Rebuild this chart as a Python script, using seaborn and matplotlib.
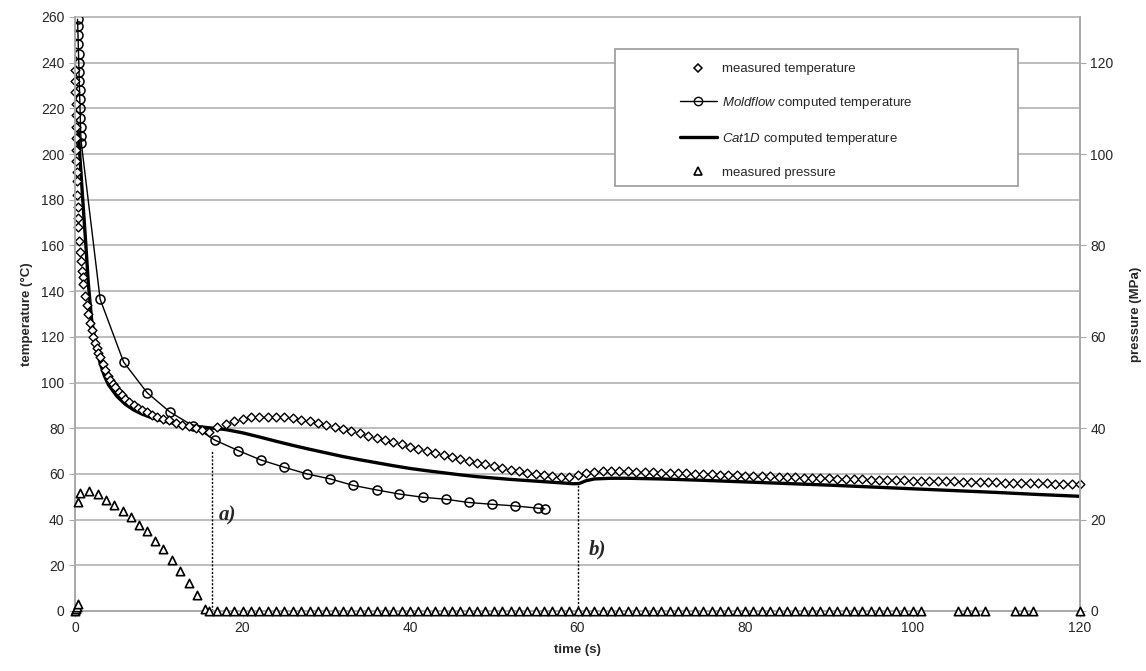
import matplotlib
matplotlib.use("Agg")
import matplotlib.pyplot as plt
import seaborn as sns
import pandas as pd
from matplotlib.lines import Line2D
from matplotlib.patches import Rectangle

# measured temperature, dense sampling at the start
meas_t_early = [0, 0.02, 0.04, 0.06, 0.08, 0.1, 0.12, 0.14, 0.16, 0.18, 0.2, 0.25, 0.3, 0.35,
                0.4, 0.5, 0.6, 0.7, 0.8, 0.9, 1.0, 1.2, 1.4, 1.6, 1.8, 2.0, 2.2, 2.4, 2.6, 2.8,
                3.0, 3.3, 3.6, 3.9, 4.2, 4.5, 4.8, 5.2, 5.6, 6.0, 6.5, 7.0, 7.5, 8.0, 8.6, 9.2,
                9.8, 10.5, 11.2, 12.0, 12.8, 13.6, 14.4, 15.2]
meas_T_early = [237, 232, 227, 222, 217, 212, 207, 202, 197, 192, 188, 182, 177, 172,
                168, 162, 157, 153, 149, 146, 143, 138, 134, 130, 126, 123, 120, 117.5, 115, 113,
                111, 108, 105.5, 103, 101, 99.5, 98, 96, 94.5, 93, 91.5, 90, 89, 88, 87, 86,
                85, 84.2, 83.4, 82.5, 81.6, 80.8, 80.0, 79.2]
# measured temperature, 1 s sampling from 16 s to 120 s
meas_t_late = list(range(16, 121))
meas_T_late = [78.5, 80.5, 82.0, 83.3, 84.2, 84.7, 85.0, 85.1, 85.0, 84.7,
               84.3, 83.7, 83.0, 82.3, 81.5, 80.6, 79.7, 78.8, 77.8, 76.8,
               75.9, 74.9, 73.9, 72.9, 72.0, 71.0, 70.1, 69.2, 68.4, 67.5,
               66.6, 65.8, 65.0, 64.2, 63.4, 62.6, 61.9, 61.2, 60.6, 60.0,
               59.5, 59.1, 58.8, 58.8, 59.6,
               60.4, 60.9, 61.1, 61.2, 61.2, 61.1, 61.0, 60.9, 60.8, 60.6,
               60.5, 60.4, 60.3, 60.1, 60.0, 59.9, 59.7, 59.6, 59.4, 59.2,
               59.1, 59.0, 58.9, 58.7, 58.6, 58.5, 58.4, 58.2, 58.1, 58.0,
               57.9, 57.8, 57.7, 57.6, 57.5, 57.4, 57.3, 57.2, 57.2, 57.1,
               57.0, 56.9, 56.8, 56.8, 56.7, 56.6, 56.5, 56.5, 56.4, 56.3,
               56.2, 56.2, 56.1, 56.0, 55.9, 55.9, 55.8, 55.7, 55.6, 55.5]

# Moldflow computed temperature
mold_t = [0.30, 0.33, 0.36, 0.39, 0.42, 0.45, 0.48, 0.51, 0.54, 0.57, 0.60, 0.63, 0.66, 0.70, 0.75,
          3.0, 5.8, 8.6, 11.3, 14.1, 16.7, 19.5, 22.2, 25.0, 27.7, 30.5, 33.2, 36.0, 38.7,
          41.5, 44.3, 47.0, 49.8, 52.5, 55.3, 56.1]
mold_T = [259, 256, 252, 248, 244, 240, 236, 232, 228, 224, 220, 216, 212, 208, 205,
          136.5, 109, 95.6, 87.2, 81, 74.8, 70.2, 66.1, 62.9, 60, 57.8, 55, 53, 51.2,
          49.8, 48.9, 47.5, 46.7, 46, 45, 44.7]

# Cat1D computed temperature
cat_t = [0.4, 0.6, 0.8, 1.0, 1.3, 1.6, 2.0, 2.5, 3.0, 3.5, 4.0, 5.0, 6.0, 7.0, 8.0, 9.0, 10, 11,
         12, 13, 14, 16, 18, 20, 22, 24, 26, 28, 30, 32, 34, 36, 38, 40, 42, 44, 46, 48, 50,
         52, 54, 56, 58, 59.5, 60.2, 61, 62, 64, 66, 70, 75, 80, 85, 90, 95, 100, 105, 110,
         115, 120]
cat_T = [210, 198, 187, 176, 160, 143, 127, 116, 108.5, 103, 99, 94, 90.5, 88, 86.2, 84.8, 83.7, 82.8,
         82, 81.3, 81.0, 80.2, 79.4, 78.0, 76.2, 74.3, 72.5, 70.8, 69.2, 67.6, 66.2, 64.9, 63.6,
         62.4, 61.4, 60.5, 59.6, 58.8, 58.2, 57.6, 57.1, 56.6, 56.1, 55.7, 55.8, 57.0, 57.8, 58.1,
         58.1, 57.8, 57.2, 56.5, 55.8, 55.1, 54.3, 53.5, 52.7, 51.9, 51.0, 50.2]

# measured pressure (MPa)
pres_t_early = [0, 0.1, 0.2, 0.3, 0.4, 0.6, 1.7, 2.7, 3.7, 4.7, 5.7, 6.65, 7.65, 8.6, 9.6,
                10.55, 11.6, 12.55, 13.6, 14.55, 15.5]
pres_early = [0, 0.4, 0.9, 1.5, 23.8, 25.9, 26.3, 25.6, 24.4, 23.3, 21.9, 20.5, 18.8, 17.4, 15.4,
              13.5, 11.2, 8.8, 6.2, 3.5, 0.4]
pres_t_zero = list(range(16, 102)) + [105.4, 106.5, 107.5, 108.6, 112.2, 113.3, 114.4, 120]
pres_zero = [0.0] * len(pres_t_zero)

# events a) and b)
event_t = [16.3, 60.1]
event_top = [70.5, 55.0]
event_lbl = ["a)", "b)"]
event_lbl_pos = [(17.2, 42), (61.3, 27)]

meas = pd.DataFrame({"t": meas_t_early + meas_t_late, "T": meas_T_early + meas_T_late})
mold = pd.DataFrame({"t": mold_t, "T": mold_T})
cat = pd.DataFrame({"t": cat_t, "T": cat_T})
pres = pd.DataFrame({"t": pres_t_early + pres_t_zero, "p": pres_early + pres_zero})

sns.set_style("white")
plt.rcParams['font.family'] = ['Liberation Sans', 'DejaVu Sans']
plt.rcParams['mathtext.fontset'] = 'custom'
plt.rcParams['mathtext.it'] = 'Liberation Sans:italic'
plt.rcParams['mathtext.rm'] = 'Liberation Sans'

fig = plt.figure(figsize=(11.46, 6.71), dpi=100)
ax = fig.add_axes([75 / 1146, 1 - 611 / 671, 1005 / 1146, 594 / 671])
ax2 = ax.twinx()

grey = '#aaaaaa'
ax.set_xlim(0, 120)
ax.set_ylim(0, 260)
ax2.set_ylim(0, 130)
ax.set_yticks(range(0, 261, 20))
ax2.set_yticks(range(0, 121, 20))
ax.set_xticks(range(0, 121, 20))
for y in range(20, 261, 20):
    ax.axhline(y, color='#b8b8b8', lw=1.3, zorder=0, clip_on=False)

sns.lineplot(data=cat, x="t", y="T", ax=ax, color='black', lw=2.4, sort=False,
             estimator=None, zorder=3)
sns.lineplot(data=mold, x="t", y="T", ax=ax, color='black', lw=1.0, sort=False,
             estimator=None, marker='o', markersize=6.5, markerfacecolor='none',
             markeredgecolor='black', markeredgewidth=1.1, zorder=4)
sns.scatterplot(data=meas, x="t", y="T", ax=ax, marker='D', s=20, facecolor='white',
                edgecolor='black', linewidth=1.0, zorder=5, clip_on=False)
sns.scatterplot(data=pres, x="t", y="p", ax=ax2, marker='^', s=36, facecolor='white',
                edgecolor='black', linewidth=1.2, zorder=5, clip_on=False)

for t, top in zip(event_t, event_top):
    ax.plot([t, t], [0, top], ls=(0, (1.5, 1.2)), color='black', lw=1.0, zorder=2)
for lbl, (x, y) in zip(event_lbl, event_lbl_pos):
    ax.text(x, y, lbl, family='Liberation Serif', style='italic', weight='bold',
            fontsize=15, ha='left', va='center')

for a in (ax, ax2):
    a.spines['top'].set_visible(False)
    for side in ('left', 'right', 'bottom'):
        a.spines[side].set_color(grey)
        a.spines[side].set_linewidth(1.3)
ax.tick_params(axis='both', labelsize=10, length=4, color=grey, direction='out', left=True, bottom=True)
ax2.tick_params(axis='y', labelsize=10, length=4, color=grey, direction='out', right=True)
ax2.tick_params(axis='y', labelright=True)

ax.set_xlabel('time (s)', fontsize=9.5, weight='bold', labelpad=6)
ax.set_ylabel('temperature (°C)', fontsize=9.5, weight='bold', labelpad=6)
ax2.set_ylabel('pressure (MPa)', fontsize=9.5, weight='bold', labelpad=12)
ax.grid(False)
ax2.grid(False)

handles = [
    Line2D([], [], ls='none', marker='D', markersize=4.5, markerfacecolor='white',
           markeredgecolor='black', markeredgewidth=1.1),
    Line2D([], [], color='black', lw=1.0, marker='o', markersize=6, markerfacecolor='none',
           markeredgecolor='black'),
    Line2D([], [], color='black', lw=2.4),
    Line2D([], [], ls='none', marker='^', markersize=5.5, markerfacecolor='white',
           markeredgecolor='black', markeredgewidth=1.2),
]
labels = ['measured temperature', r'$\it{Moldflow}$ computed temperature',
          r'$\it{Cat1D}$ computed temperature', 'measured pressure']
fig.legend(handles, labels, loc='upper left', bbox_to_anchor=(680 / 1146, 1 - 63 / 671),
           frameon=False, fontsize=9.5, labelspacing=1.5, handlelength=2.8,
           handletextpad=0.4, borderpad=0, borderaxespad=0)
fig.patches.append(Rectangle((615 / 1146, 1 - 186 / 671), 403 / 1146, 137 / 671,
                             transform=fig.transFigure, fill=True, facecolor='white',
                             edgecolor='#999999', lw=1.2, zorder=1))

fig.savefig('out.png', dpi=100)
